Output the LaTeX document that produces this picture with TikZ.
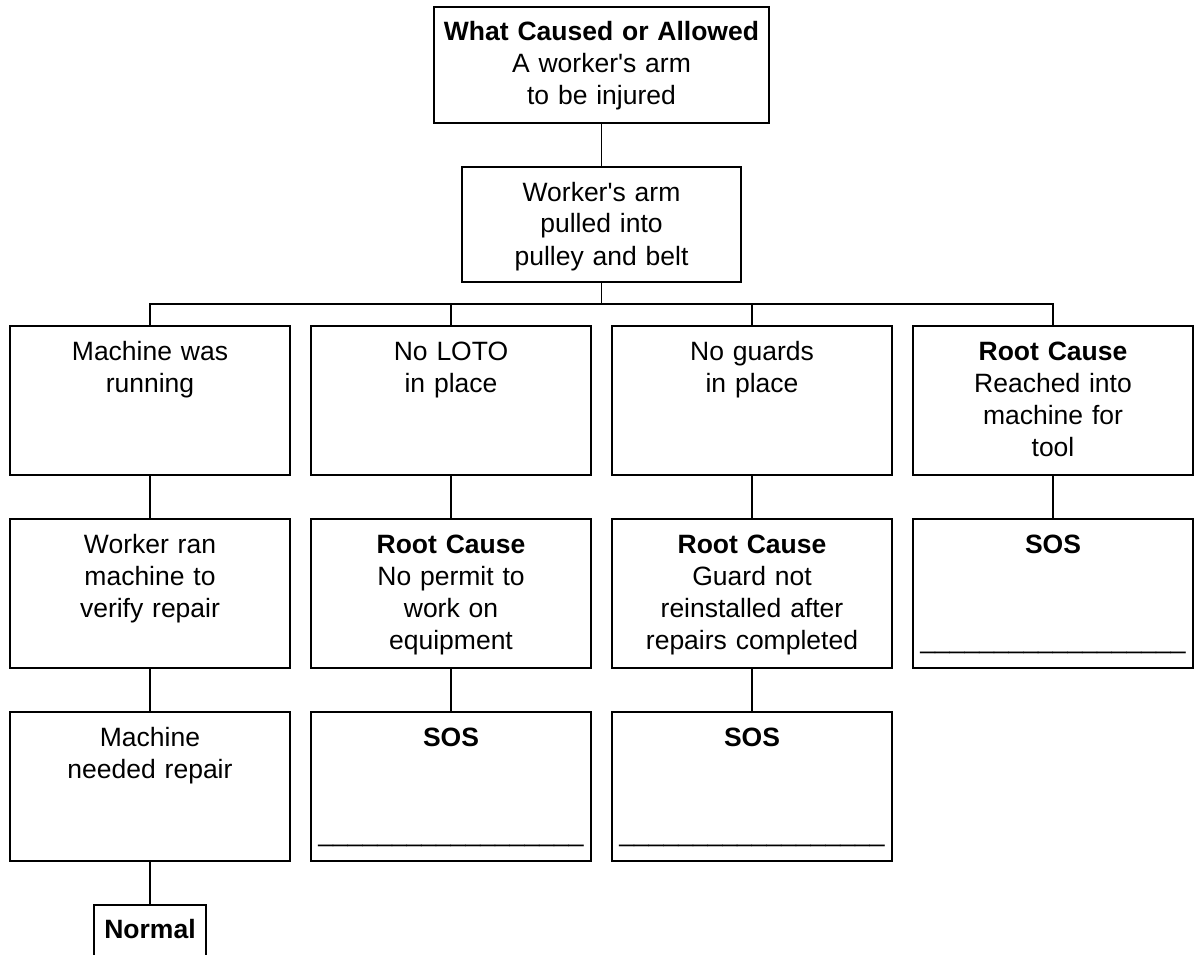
\documentclass[tikz,border=0pt]{standalone}
\usepackage{fontspec}
\setmainfont{Liberation Sans}
\usetikzlibrary{positioning}
\newcommand{\sosline}{\_\_\_\_\_\_\_\_\_\_\_\_\_\_\_\_\_\_}

\begin{document}
\begin{tikzpicture}[x=1pt, y=1pt, node distance=44pt, auto]
        % Define block styles
        \tikzstyle{block} = [rectangle, draw, line width=1.7pt, outer sep=0pt, text width=274pt, inner xsep=3pt, inner ysep=0pt, align=center, text height=34pt, text depth=115pt, font={\fontsize{26.5}{32}\selectfont}]
        \tikzstyle{topblock} = [block, text width=329pt, text depth=82pt]
        \tikzstyle{midblock} = [block, text width=273pt, text depth=81pt]
        \tikzstyle{smallblock} = [rectangle, draw, line width=1.7pt, outer sep=0pt, inner xsep=10pt, inner ysep=0pt, minimum width=112pt, text height=33pt, text depth=40pt, font={\fontsize{26.5}{32}\selectfont}]
        \tikzstyle{line} = [draw, line width=1.7pt]

        \useasboundingbox (0,0) rectangle (1195,-955);

        % Nodes
        \node [topblock, anchor=north] (allowed) at (601.5,-7) {\textbf{What Caused or Allowed}\\ A worker\textquotesingle s arm\\ to be injured};
        \node [midblock, below=of allowed] (pulled) {Worker\textquotesingle s arm\\ pulled into\\ pulley and belt};
        \node [block, below=of pulled, xshift=-150.5pt] (noloto) {No LOTO\\ in place};
        \node [block, left=21pt of noloto] (running) {Machine was\\ running};
        \node [block, right=21pt of noloto] (noguards) {No guards\\ in place};
        \node [block, right=21pt of noguards] (reached) {\textbf{Root Cause}\\ Reached into\\ machine for\\ tool};

        \node [block, below=of running] (verify) {Worker ran\\ machine to\\ verify repair};
        \node [block, below=of noloto] (permit) {\textbf{Root Cause}\\ No permit to\\ work on\\ equipment};
        \node [block, below=of noguards] (guard) {\textbf{Root Cause}\\ Guard not\\ reinstalled after\\ repairs completed};
        \node [block, below=of reached] (sosreach) {\textbf{SOS}\\[63pt] \sosline};

        \node [block, below=of verify] (repair) {Machine\\ needed repair};
        \node [block, below=of permit] (sospermit) {\textbf{SOS}\\[63pt] \sosline};
        \node [block, below=of guard] (sosguard) {\textbf{SOS}\\[63pt] \sosline};

        \node [smallblock, below=of repair] (normal) {\textbf{Normal}};

        % Lines
        \path [line] (allowed) -- (pulled);
        \path [line] (pulled.south) -- ++(0,-22pt) coordinate (bus);
        \path [line] (running.north) |- (bus) -| (reached.north);
        \path [line] (noloto.north) -- (noloto.north |- bus);
        \path [line] (noguards.north) -- (noguards.north |- bus);
        \path [line] (running) -- (verify);
        \path [line] (verify) -- (repair);
        \path [line] (repair) -- (normal);
        \path [line] (noloto) -- (permit);
        \path [line] (permit) -- (sospermit);
        \path [line] (noguards) -- (guard);
        \path [line] (guard) -- (sosguard);
        \path [line] (reached) -- (sosreach);

    \end{tikzpicture}
\end{document}
